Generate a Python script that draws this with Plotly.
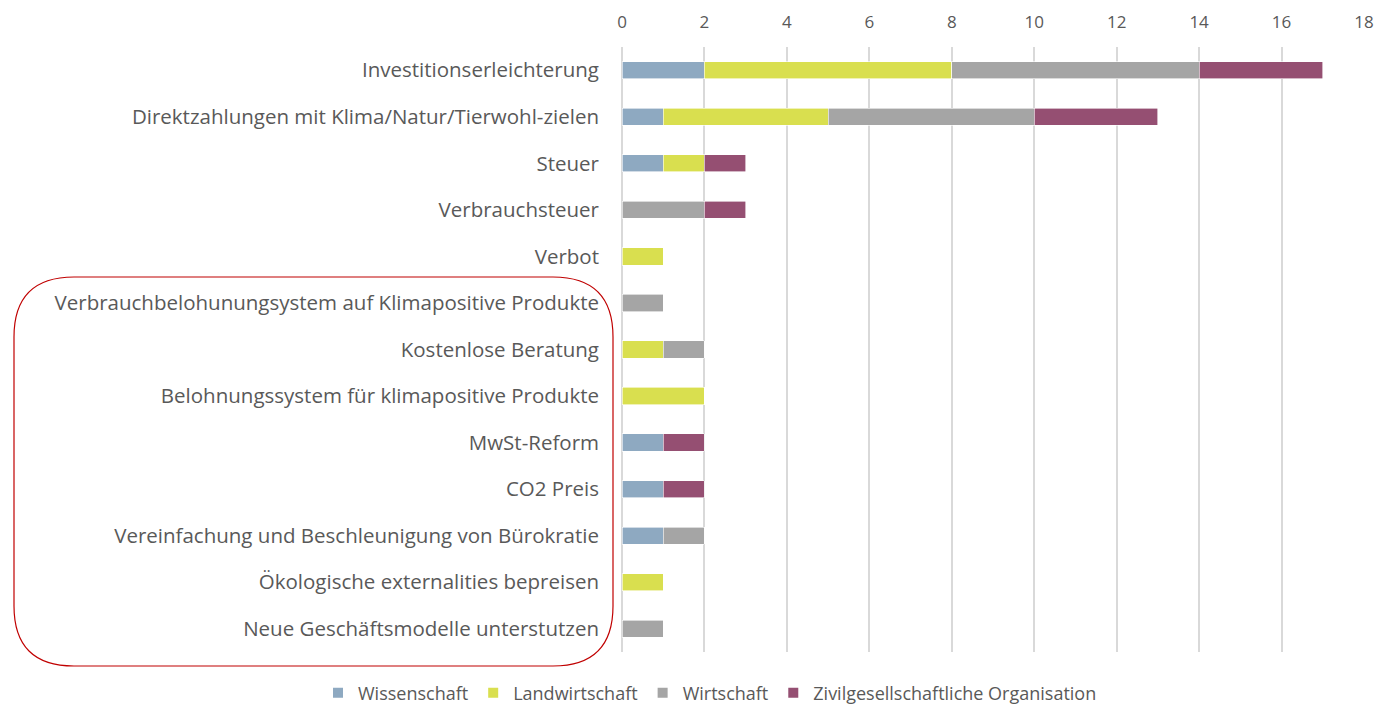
import plotly.graph_objects as go

categories = [
    "Investitionserleichterung",
    "Direktzahlungen mit Klima/Natur/Tierwohl-zielen",
    "Steuer",
    "Verbrauchsteuer",
    "Verbot",
    "Verbrauchbelohunungsystem auf Klimapositive Produkte",
    "Kostenlose Beratung",
    "Belohnungssystem für klimapositive Produkte",
    "MwSt-Reform",
    "CO2 Preis",
    "Vereinfachung und Beschleunigung von Bürokratie",
    "Ökologische externalities bepreisen",
    "Neue Geschäftsmodelle unterstutzen",
]
wissenschaft = [2, 1, 1, 0, 0, 0, 0, 0, 1, 1, 1, 0, 0]
landwirtschaft = [6, 4, 1, 0, 1, 0, 1, 2, 0, 0, 0, 1, 0]
wirtschaft = [6, 5, 0, 2, 0, 1, 1, 0, 0, 0, 1, 0, 1]
zivil = [3, 3, 1, 1, 0, 0, 0, 0, 1, 1, 0, 0, 0]

series = [
    ("Wissenschaft", wissenschaft, "#8EA9C1"),
    ("Landwirtschaft", landwirtschaft, "#D9DF4F"),
    ("Wirtschaft", wirtschaft, "#A5A5A5"),
    ("Zivilgesellschaftliche Organisation", zivil, "#954F72"),
]

fig = go.Figure()
for name, vals, col in series:
    fig.add_trace(go.Bar(
        y=categories, x=vals, name=name, orientation="h",
        marker=dict(color=col, line=dict(color="white", width=0.6)),
        width=0.37,
    ))

# page body has an 8px margin, so figure coords = screen coords - 8
OFF = 8
W, H = 1394, 705
ml = 622 - OFF
mt = 47 - OFF
mr = W - (1364 - OFF)
mb = H - (652 - OFF)
pw, ph = W - ml - mr, H - mt - mb

def px_x(x):
    return (x - OFF - ml) / pw

def px_y(y):
    return (H - mb - (y - OFF)) / ph

FONT = "Open Sans, Lato, sans-serif"

fig.update_layout(
    width=W, height=H,
    barmode="stack",
    bargap=0.6,
    plot_bgcolor="white", paper_bgcolor="white",
    margin=dict(l=ml, r=mr, t=mt, b=mb, pad=0, autoexpand=False),
    font=dict(family=FONT, color="#595959"),
    xaxis=dict(
        side="top", range=[0, 18], dtick=2, showgrid=True, automargin=False,
        gridcolor="#D9D9D9", gridwidth=1.5, zeroline=True, zerolinecolor="#D9D9D9",
        zerolinewidth=1.5,
        tickfont=dict(size=17, color="#595959"), ticks="", ticklabelstandoff=15,
    ),
    yaxis=dict(
        autorange="reversed", tickfont=dict(size=20.5, color="#595959"),
        ticks="", ticklabelstandoff=22, showgrid=False, automargin=False,
    ),
    legend=dict(
        orientation="h", x=px_x(318), xanchor="left", y=px_y(693), yanchor="middle",
        font=dict(size=18, color="#595959"), traceorder="normal",
        itemsizing="constant", itemwidth=30,
    ),
    showlegend=True,
)

# rounded red rectangle (annotation box)
x0, x1, y0, y1 = px_x(14), px_x(613), px_y(277), px_y(666)
rx = 60 / pw
ry = 60 / ph
path = (
    f"M {x0+rx},{y0} L {x1-rx},{y0} Q {x1},{y0} {x1},{y0-ry} "
    f"L {x1},{y1+ry} Q {x1},{y1} {x1-rx},{y1} "
    f"L {x0+rx},{y1} Q {x0},{y1} {x0},{y1+ry} "
    f"L {x0},{y0-ry} Q {x0},{y0} {x0+rx},{y0} Z"
)
fig.add_shape(type="path", path=path, xref="paper", yref="paper",
              line=dict(color="#C00000", width=1.2), layer="above")

fig.write_html("out.html")
